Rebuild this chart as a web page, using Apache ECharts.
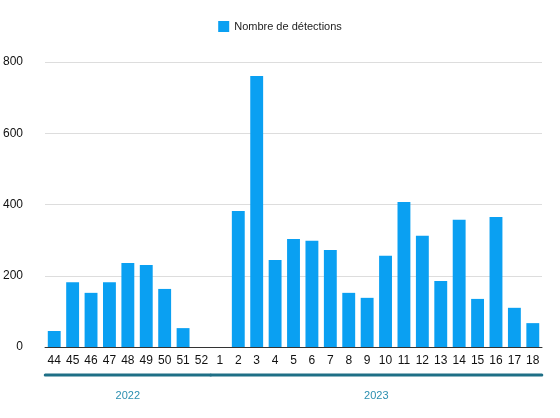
<!DOCTYPE html>
<html><head><meta charset="utf-8">
<script src="https://cdn.jsdelivr.net/npm/echarts@6/dist/echarts.min.js"></script>
<style>html,body{margin:0;padding:0;background:#fff}#c{width:560px;height:418px}</style>
</head><body><div id="c"></div>
<script>
var weeks = ["44","45","46","47","48","49","50","51","52","1","2","3","4","5","6","7","8","9","10","11","12","13","14","15","16","17","18"];
var detections = [45,182,152,182,236,230,163,53,0,0,382,761,244,303,298,272,152,138,256,407,312,185,357,135,365,110,67];
var years = [{name:"2022", from:"44", to:"52"}, {name:"2023", from:"1", to:"18"}];

var chart = echarts.init(document.getElementById("c"));
chart.setOption({
    animation: false,
    textStyle: {fontFamily: "Liberation Sans"},
    legend: {
        top: 16, itemWidth: 11, itemHeight: 11, icon: "rect",
        textStyle: {fontSize: 11, color: "#222"},
        data: ["Nombre de détections"]
    },
    grid: {left: 45, right: 18, top: 62, bottom: 71},
    xAxis: {
        type: "category", data: weeks,
        axisTick: {show: false},
        axisLine: {lineStyle: {color: "#333"}},
        axisLabel: {color: "#111", fontSize: 12, margin: 8}
    },
    yAxis: {
        type: "value", min: 0, max: 800, interval: 200,
        axisLabel: {color: "#111", fontSize: 12, margin: 22},
        splitLine: {lineStyle: {color: "#ddd"}}
    },
    series: [{
        name: "Nombre de détections", type: "bar", barWidth: "70%",
        itemStyle: {color: "#0aa0f2"},
        data: detections
    }]
});

var g = [];
years.forEach(function (y) {
    var x1 = chart.convertToPixel({xAxisIndex: 0}, y.from) - 9;
    var x2 = chart.convertToPixel({xAxisIndex: 0}, y.to) + 9;
    g.push({type: "line", shape: {x1: x1, y1: 375, x2: x2, y2: 375},
        style: {stroke: "#1e6f86", lineWidth: 3, lineCap: "round"}});
    g.push({type: "text", x: (x1 + x2) / 2, y: 396,
        style: {text: y.name, fill: "#2b8fb0", fontSize: 11, align: "center", verticalAlign: "middle", fontFamily: "Liberation Sans"}});
});
chart.setOption({graphic: g});
</script></body></html>
